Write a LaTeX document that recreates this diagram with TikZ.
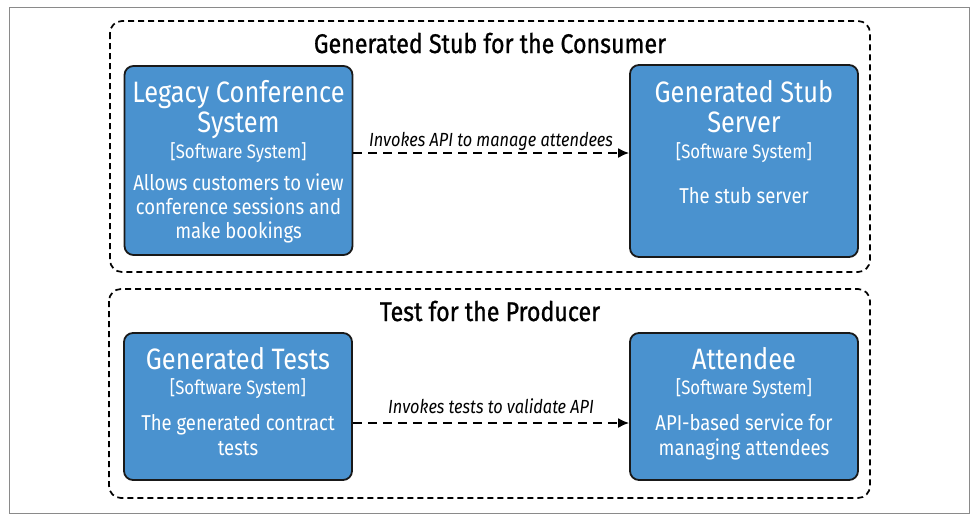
\documentclass[tikz,border=0pt]{standalone}
\usepackage{fontspec}
\setmainfont{Fira Sans}[FakeStretch=0.86]
\newfontfamily\grpfont{Fira Sans}[FakeStretch=0.86, FakeBold=0.9]
\usetikzlibrary{arrows.meta}
\definecolor{boxblue}{HTML}{4A92CF}
\definecolor{framegray}{HTML}{8A8A8A}
\tikzset{
  sysbox/.style={draw=black!90, line width=1.8pt, fill=boxblue, rounded corners=9pt, minimum width=228pt, inner sep=0pt},
  grpbox/.style={draw=black, line width=1.7pt, dash pattern=on 6pt off 4pt, rounded corners=12pt, inner sep=0pt},
  ttl/.style={text=white, font=\fontsize{29.5}{30}\selectfont, anchor=base, inner sep=0pt},
  tag/.style={text=white, font=\fontsize{19.5}{20}\selectfont, anchor=base, inner sep=0pt},
  desc/.style={text=white, font=\fontsize{21.5}{24}\selectfont, anchor=base, inner sep=0pt},
  grptitle/.style={font=\grpfont\fontsize{27}{28}\selectfont, anchor=base, inner sep=0pt},
  rel/.style={line width=1.8pt, dash pattern=on 9pt off 6pt, -{Latex[length=11pt,width=10pt]}},
  rellabel/.style={font=\itshape\fontsize{19}{20}\selectfont, anchor=base, inner sep=0pt}
}
\begin{document}
\begin{tikzpicture}[x=1pt,y=-1pt]
\useasboundingbox (0,0) rectangle (978,523);
\draw[framegray, line width=1pt] (9,7) rectangle (969,513);
% groups
\draw[grpbox] (110,21) rectangle (870,272);
\node[grptitle] (g1) at (490,53) {Generated Stub for the Consumer};
\draw[grpbox] (109,289) rectangle (870,498);
\node[grptitle] (g2) at (490,321) {Test for the Producer};
% boxes
\node[sysbox, minimum height=189pt] (legacy) at (238.5,160.5) {};
\node[sysbox, minimum height=192pt] (stub) at (744,161) {};
\node[sysbox, minimum height=147pt] (tests) at (238,406.5) {};
\node[sysbox, minimum height=147pt] (att) at (744,406.5) {};
% legacy text
\node[ttl] (lt1) at (238.5,102) {Legacy Conference};
\node[ttl] (lt2) at (238.5,132) {System};
\node[tag] (ls) at (238.5,158) {[Software System]};
\node[desc] (ld1) at (238.5,190) {Allows customers to view};
\node[desc] (ld2) at (238.5,214) {conference sessions and};
\node[desc] (ld3) at (238.5,238) {make bookings};
% stub text
\node[ttl] (st1) at (744,102) {Generated Stub};
\node[ttl] (st2) at (744,132) {Server};
\node[tag] (ss) at (744,158) {[Software System]};
\node[desc] (sd) at (744,203) {The stub server};
% tests text
\node[ttl] (tt) at (238,369) {Generated Tests};
\node[tag] (ts) at (238,394) {[Software System]};
\node[desc] (td1) at (238,430) {The generated contract};
\node[desc] (td2) at (238,455) {tests};
% attendee text
\node[ttl] (at) at (744,369) {Attendee};
\node[tag] (as) at (744,394) {[Software System]};
\node[desc] (ad1) at (744,430) {API-based service for};
\node[desc] (ad2) at (744,455) {managing attendees};
% relations
\draw[rel] (legacy.east |- 0,153) -- (stub.west |- 0,153);
\node[rellabel] (r1) at (491,146) {Invokes API to manage attendees};
\draw[rel] (tests.east |- 0,423) -- (att.west |- 0,423);
\node[rellabel] (r2) at (491,413) {Invokes tests to validate API};
\end{tikzpicture}
\end{document}
